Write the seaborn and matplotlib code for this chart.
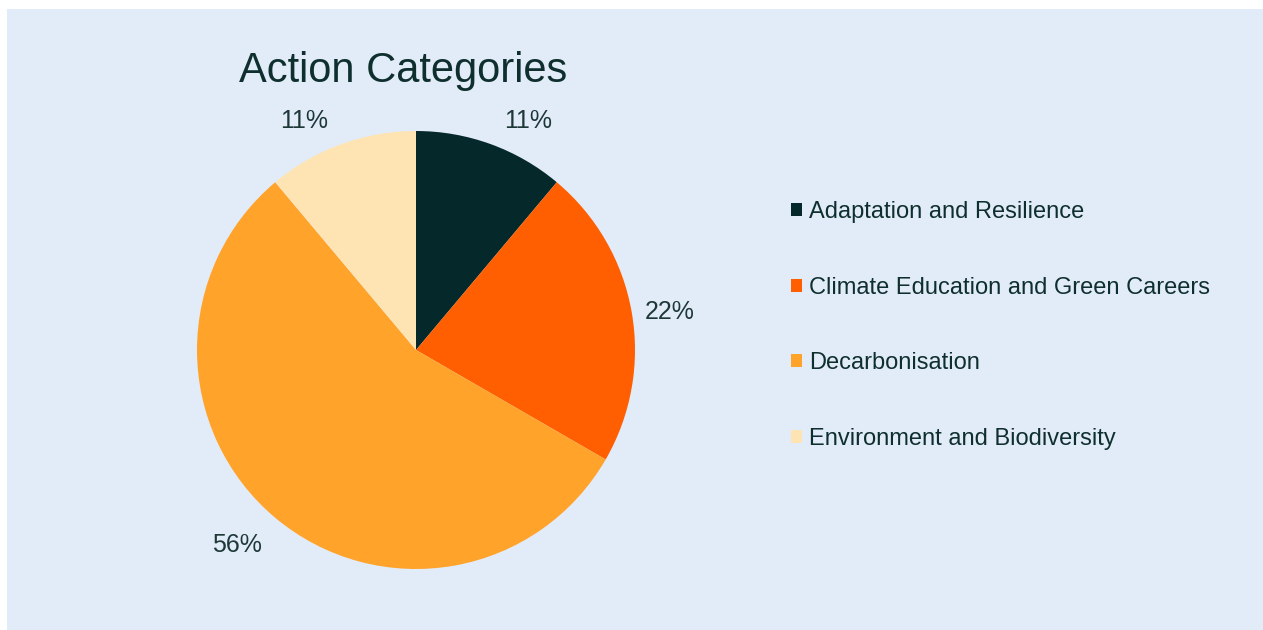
import numpy as np
import matplotlib
matplotlib.use("Agg")
import matplotlib.pyplot as plt
import seaborn as sns

categories = ["Adaptation and Resilience", "Climate Education and Green Careers",
              "Decarbonisation", "Environment and Biodiversity"]
values = [1, 2, 5, 1]
colors = ["#05292A", "#FF5F00", "#FFA32B", "#FFE4B3"]
title = "Action Categories"

sns.set_theme(style="white")
plt.rcParams['font.family'] = ['Liberation Sans', 'DejaVu Sans']

bg = "#E2ECF8"
txt = "#0F2F2F"

fig = plt.figure(figsize=(12.63, 6.30), dpi=100)
fig.patch.set_facecolor("white")
fig.add_artist(plt.Rectangle((7 / 1263, 0), 1 - 7 / 1263, 1 - 9 / 630,
                             transform=fig.transFigure, facecolor=bg,
                             edgecolor="none", zorder=0))

W, H = 1263, 630
cx, cy, R = 416, 350, 219
ax = fig.add_axes([(cx - R) / W, (H - cy - R) / H, 2 * R / W, 2 * R / H])
ax.set_facecolor("none")

wedges, _ = ax.pie(values, colors=colors, startangle=90, counterclock=False,
                   wedgeprops=dict(linewidth=0), radius=1)
ax.set_xlim(-1, 1)
ax.set_ylim(-1, 1)
ax.set_aspect("equal")
ax.axis("off")

total = sum(values)
gapx, gapy = 0.06, 0.05
for w, v in zip(wedges, values):
    ang = np.deg2rad((w.theta1 + w.theta2) / 2)
    c, s = np.cos(ang), np.sin(ang)
    ha = "left" if c > 0.1 else ("right" if c < -0.1 else "center")
    va = "bottom" if s > 0.3 else ("top" if s < -0.3 else "center")
    x = c + gapx * np.sign(c)
    y = s + (gapy * np.sign(s) if abs(s) > 0.3 else 0)
    if va == "top":
        y -= 0.02
    ax.text(x, y, f"{round(100 * v / total)}%", ha=ha, va=va,
            fontsize=18, color="#1E3838", clip_on=False)

fig.text(403 / W, 1 - 71 / H, title, ha="center", va="center",
         fontsize=30, color=txt)

handles = [plt.Rectangle((0, 0), 1, 1, facecolor=col, edgecolor="none") for col in colors]
leg = fig.legend(handles, categories, loc="center left",
                 bbox_to_anchor=(791 / W, 1 - 325.5 / H), frameon=False,
                 fontsize=17, labelspacing=2.27, handlelength=0.48,
                 handleheight=0.48, handletextpad=0.3, borderpad=0,
                 borderaxespad=0)
for t in leg.get_texts():
    t.set_color(txt)

fig.savefig("out.png", dpi=100, facecolor=fig.get_facecolor())
